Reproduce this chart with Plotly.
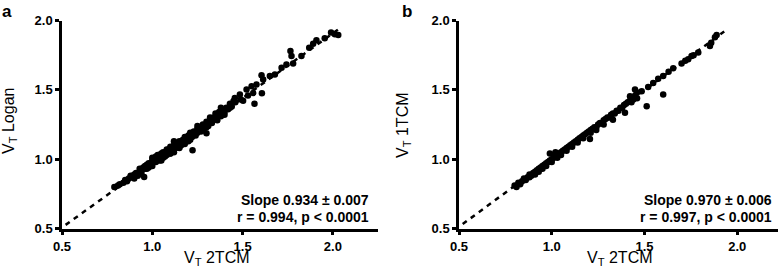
import plotly.graph_objects as go

# ---------------- data ----------------
tick_vals = [0.5, 1.0, 1.5, 2.0]
tick_text = ["0.5", "1.0", "1.5", "2.0"]

# Panel a: VT 2TCM (x) vs VT Logan (y)
a_x = [0.79, 0.81, 0.82, 0.84, 0.85, 0.86, 0.87, 0.88, 0.89, 0.90, 0.90, 0.91, 0.92, 0.93, 0.93,
       0.94, 0.95, 0.955, 0.96, 0.96, 0.97, 0.98, 0.98, 0.99, 1.00, 1.00, 1.01, 1.02, 1.02, 1.03,
       1.04, 1.04, 1.05, 1.06, 1.06, 1.07, 1.08, 1.08, 1.09, 1.10, 1.10, 1.11, 1.12, 1.12, 1.13,
       1.14, 1.15, 1.15, 1.16, 1.17, 1.18, 1.18, 1.19, 1.20, 1.21, 1.21, 1.223, 1.22, 1.23, 1.24,
       1.25, 1.25, 1.26, 1.27, 1.28, 1.28, 1.29, 1.30, 1.30, 1.31, 1.32, 1.33, 1.34, 1.35, 1.36,
       1.37, 1.38, 1.39, 1.40, 1.41, 1.42, 1.43, 1.44, 1.457, 1.46, 1.485, 1.49, 1.503, 1.522, 1.53,
       1.55, 1.559, 1.566, 1.577, 1.605, 1.607, 1.614, 1.651, 1.679, 1.716, 1.743, 1.765, 1.771, 1.78,
       1.826, 1.869, 1.891, 1.909, 1.955, 1.99, 2.011, 2.03,
       1.00, 1.05, 1.10, 1.15, 1.20, 1.25, 1.30, 1.35, 1.40, 1.38, 1.12, 1.08, 0.92, 0.97, 1.32,
       1.27, 1.43, 1.45, 0.94, 1.03, 1.17, 1.23, 1.36]
a_y = [0.80, 0.81, 0.82, 0.83, 0.85, 0.84, 0.86, 0.88, 0.87, 0.89, 0.86, 0.90, 0.90, 0.91, 0.93,
       0.92, 0.94, 0.872, 0.93, 0.95, 0.96, 0.94, 0.97, 0.96, 0.99, 0.95, 1.00, 0.98, 1.02, 1.00,
       1.03, 0.99, 1.04, 1.01, 1.05, 1.02, 1.06, 1.03, 1.07, 1.04, 1.09, 1.06, 1.10, 1.05, 1.08,
       1.11, 1.09, 1.13, 1.10, 1.14, 1.11, 1.16, 1.13, 1.17, 1.14, 1.19, 1.065, 1.16, 1.20, 1.17,
       1.22, 1.19, 1.23, 1.20, 1.25, 1.21, 1.24, 1.186, 1.27, 1.24, 1.28, 1.26, 1.30, 1.29, 1.31,
       1.34, 1.31, 1.35, 1.34, 1.37, 1.36, 1.40, 1.38, 1.442, 1.41, 1.466, 1.43, 1.422, 1.502, 1.46,
       1.526, 1.478, 1.40, 1.538, 1.606, 1.476, 1.575, 1.599, 1.611, 1.659, 1.683, 1.78, 1.744, 1.69,
       1.744, 1.804, 1.833, 1.857, 1.872, 1.913, 1.901, 1.895,
       1.01, 0.99, 1.04, 1.08, 1.13, 1.24, 1.23, 1.33, 1.32, 1.37, 1.13, 1.07, 0.88, 0.93, 1.30,
       1.23, 1.37, 1.42, 0.90, 1.03, 1.12, 1.18, 1.28]

# Panel b: VT 2TCM (x) vs VT 1TCM (y)
b_x = [0.80, 0.81, 0.82, 0.83, 0.84, 0.85, 0.86, 0.87, 0.88, 0.88, 0.89, 0.90, 0.91, 0.91, 0.92,
       0.93, 0.93, 0.94, 0.95, 0.95, 0.96, 0.97, 0.97, 0.98, 0.99, 0.99, 1.00, 1.00, 1.01, 1.02,
       1.02, 1.03, 1.04, 1.05, 1.05, 1.06, 1.07, 1.08, 1.08, 1.09, 1.10, 1.11, 1.11, 1.12, 1.13,
       1.14, 1.14, 1.15, 1.16, 1.17, 1.17, 1.18, 1.19, 1.20, 1.206, 1.21, 1.21, 1.22, 1.23, 1.24,
       1.24, 1.25, 1.26, 1.27, 1.28, 1.28, 1.29, 1.30, 1.31, 1.32, 1.33, 1.33, 1.34, 1.35, 1.36,
       1.37, 1.38, 1.395, 1.39, 1.40, 1.41, 1.42, 1.422, 1.43, 1.44, 1.449, 1.45, 1.46, 1.46, 1.485,
       1.512, 1.52, 1.547, 1.574, 1.601, 1.601, 1.63, 1.655, 1.70, 1.72, 1.736, 1.754, 1.765, 1.79,
       1.853, 1.86, 1.88, 1.889]
b_y = [0.81, 0.80, 0.83, 0.82, 0.84, 0.86, 0.85, 0.87, 0.89, 0.87, 0.88, 0.90, 0.91, 0.89, 0.92,
       0.93, 0.91, 0.94, 0.95, 0.93, 0.96, 0.97, 0.95, 0.98, 1.04, 0.99, 1.00, 0.98, 1.01, 1.05,
       1.02, 1.01, 1.04, 1.05, 1.03, 1.06, 1.07, 1.08, 1.06, 1.09, 1.10, 1.11, 1.09, 1.12, 1.13,
       1.14, 1.12, 1.15, 1.16, 1.17, 1.15, 1.18, 1.19, 1.20, 1.145, 1.21, 1.19, 1.22, 1.23, 1.23,
       1.21, 1.25, 1.26, 1.26, 1.28, 1.25, 1.29, 1.30, 1.30, 1.32, 1.285, 1.33, 1.33, 1.35, 1.35,
       1.37, 1.37, 1.335, 1.39, 1.40, 1.41, 1.42, 1.454, 1.41, 1.43, 1.502, 1.46, 1.48, 1.44, 1.49,
       1.381, 1.52, 1.55, 1.58, 1.60, 1.466, 1.63, 1.655, 1.69, 1.71, 1.72, 1.744, 1.75, 1.77,
       1.816, 1.84, 1.88, 1.896]

# regression lines (endpoints as drawn)
fit_a_x = [0.52, 2.04]
fit_a_y = [0.526, 1.945]
fit_b_x = [0.52, 1.93]
fit_b_y = [0.532, 1.921]

stats_a = ["Slope 0.934 ± 0.007", "r = 0.994, p < 0.0001"]
stats_b = ["Slope 0.970 ± 0.006", "r = 0.997, p < 0.0001"]

# ---------------- figure ----------------
W, H = 778, 279
FONT = "Arial, Liberation Sans, sans-serif"

fig = go.Figure()

line_style = dict(color="black", width=2.5, dash="5px,5px")
marker_style = dict(color="black", size=6.5, line=dict(width=0))

fig.add_trace(go.Scatter(x=fit_a_x, y=fit_a_y, mode="lines", line=line_style,
                         xaxis="x", yaxis="y", showlegend=False, hoverinfo="skip"))
fig.add_trace(go.Scatter(x=a_x, y=a_y, mode="markers", marker=marker_style,
                         xaxis="x", yaxis="y", showlegend=False))
fig.add_trace(go.Scatter(x=fit_b_x, y=fit_b_y, mode="lines", line=line_style,
                         xaxis="x2", yaxis="y2", showlegend=False, hoverinfo="skip"))
fig.add_trace(go.Scatter(x=b_x, y=b_y, mode="markers", marker=marker_style,
                         xaxis="x2", yaxis="y2", showlegend=False))

def px_x(p):
    return p / W

def px_y(p):
    return 1 - p / H

axis_common = dict(
    showgrid=False, zeroline=False, showline=True, linecolor="black", linewidth=2.5,
    ticks="outside", ticklen=4, tickwidth=2.5, tickcolor="black",
    tickvals=tick_vals, ticktext=tick_text, automargin=False,
    tickfont=dict(family=FONT, size=13, color="black", weight="bold"),
)

ydom = [px_y(228.5), px_y(20.5)]
fig.update_layout(
    template="none",
    width=W, height=H, margin=dict(l=0, r=0, t=0, b=0, pad=0),
    paper_bgcolor="white", plot_bgcolor="white",
    xaxis=dict(domain=[px_x(62), px_x(378)], range=[0.5, 2.25], anchor="y", **axis_common),
    yaxis=dict(domain=ydom, range=[0.5, 2.0], anchor="x", **axis_common),
    xaxis2=dict(domain=[px_x(459), 1.0], range=[0.5, 2.22], anchor="y2", **axis_common),
    yaxis2=dict(domain=ydom, range=[0.5, 2.0], anchor="x2", **axis_common),
)

ann = []
title_font = dict(family=FONT, size=16, color="black")
# x-axis titles
ann.append(dict(x=px_x(217), y=px_y(258.5), xref="paper", yref="paper", showarrow=False,
                text="V<sub>T</sub> 2TCM", font=title_font, xanchor="center", yanchor="middle"))
ann.append(dict(x=px_x(620), y=px_y(258.5), xref="paper", yref="paper", showarrow=False,
                text="V<sub>T</sub> 2TCM", font=title_font, xanchor="center", yanchor="middle"))
# y-axis titles
ann.append(dict(x=px_x(9), y=px_y(121), xref="paper", yref="paper", showarrow=False,
                text="V<sub>T</sub> Logan", font=title_font, textangle=-90,
                xanchor="center", yanchor="middle"))
ann.append(dict(x=px_x(403), y=px_y(125), xref="paper", yref="paper", showarrow=False,
                text="V<sub>T</sub> 1TCM", font=title_font, textangle=-90,
                xanchor="center", yanchor="middle"))
# panel letters
letter_font = dict(family=FONT, size=17, color="black", weight="bold")
ann.append(dict(x=px_x(0), y=px_y(0), xref="paper", yref="paper", showarrow=False,
                text="a", font=letter_font, xanchor="left", yanchor="top"))
ann.append(dict(x=px_x(400), y=px_y(0), xref="paper", yref="paper", showarrow=False,
                text="b", font=letter_font, xanchor="left", yanchor="top"))
# statistics text
stat_font = dict(family=FONT, size=14, color="black", weight="bold")
for x_right, lines in ((371, stats_a), (774, stats_b)):
    for y_mid, txt in zip((200, 216.5), lines):
        ann.append(dict(x=px_x(x_right), y=px_y(y_mid), xref="paper", yref="paper",
                        showarrow=False, text=txt, font=stat_font,
                        xanchor="right", yanchor="middle"))
fig.update_layout(annotations=ann)

fig.write_html("out.html", config={"displayModeBar": False},
               post_script="document.body.style.margin='0';document.body.style.padding='0';")
